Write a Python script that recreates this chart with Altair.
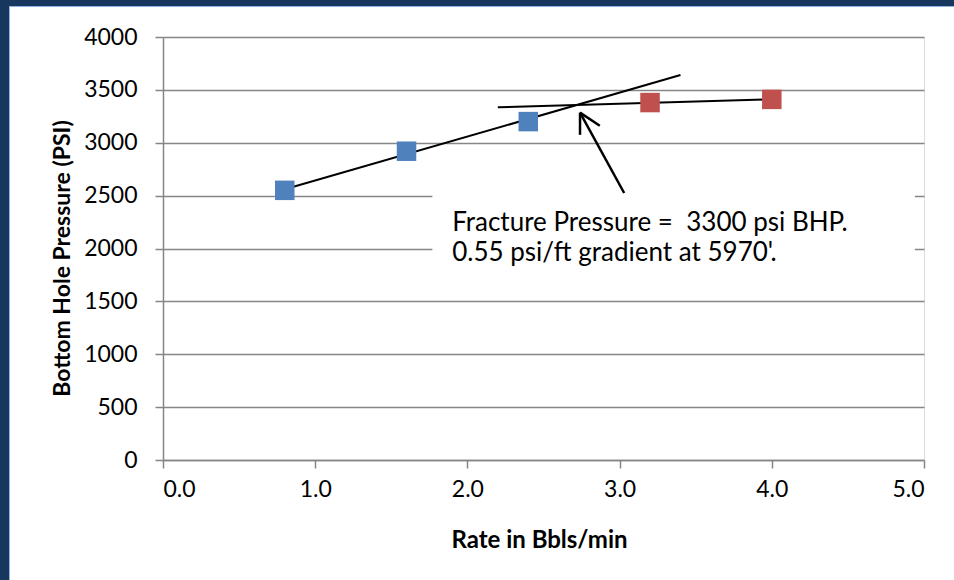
import altair as alt
import pandas as pd

# ---- data ----
rate = [0.8, 1.6, 2.4, 3.2, 4.0]
bhp = [2550, 2920, 3200, 3380, 3410]
phase = ["below", "below", "below", "above", "above"]
phase_colors = ["#4F81BD", "#C0504D"]

# hand-drawn trend lines and arrow (start x, start y, end x, end y)
seg_x = [0.8, 2.2, 3.03, 2.74, 2.74]
seg_y = [2560, 3335, 2525, 3285, 3285]
seg_x2 = [3.4, 4.0, 2.74, 2.74, 2.87]
seg_y2 = [3640, 3410, 3285, 3075, 3160]
seg_w = [2, 2, 2.5, 2.5, 2.5]

note_lines = ["Fracture Pressure =\u00a0 3300 psi BHP.", "0.55 psi/ft gradient at 5970'."]
note_x = [1.9, 1.9]
note_y = [2240, 1955]

box_x = [1.77]
box_x2 = [4.94]
box_y = [1600]
box_y2 = [2780]

x_ticks = [0, 1, 2, 3, 4, 5]
y_ticks = [0, 500, 1000, 1500, 2000, 2500, 3000, 3500, 4000]

FONT = "Lato"
GRAY = "#868686"
NAVY = "#17375E"
LIGHT = "#8EB4E3"

pts = pd.DataFrame({"rate": rate, "bhp": bhp, "phase": phase})
segs = pd.DataFrame({"x": seg_x, "y": seg_y, "x2": seg_x2, "y2": seg_y2, "w": seg_w})
notes = pd.DataFrame({"x": note_x, "y": note_y, "t": note_lines})
box = pd.DataFrame({"x": box_x, "x2": box_x2, "y": box_y, "y2": box_y2})

xs = alt.Scale(domain=[0, 5], nice=False)
ys = alt.Scale(domain=[0, 4000], nice=False)

x_axis = alt.Axis(values=x_ticks, format=".1f", grid=False, tickSize=8,
                  tickColor=GRAY, tickWidth=1.5, domainColor=GRAY, domainWidth=1.5,
                  labelFontSize=23, labelPadding=10, labelColor="black", labelFont=FONT,
                  title="Rate in Bbls/min", titleFontSize=24, titleFontWeight="bold",
                  titleColor="black", titleFont=FONT, titleX=376, titleY=80,
                  titleBaseline="middle", titleAlign="center")
y_axis = alt.Axis(values=y_ticks, format="d", grid=True, gridColor=GRAY, gridWidth=1.5, tickSize=8,
                  tickColor=GRAY, tickWidth=1.5, domainColor=GRAY, domainWidth=1.5,
                  labelFontSize=23, labelPadding=18, labelColor="black", labelFont=FONT,
                  title="Bottom Hole Pressure (PSI)", titleFontSize=23, titleFontWeight="bold",
                  titleColor="black", titleFont=FONT, titleX=-101, titleY=221, titleAngle=-90,
                  titleBaseline="middle", titleAlign="center")

base_axes = alt.Chart(pts).mark_point(opacity=0).encode(
    x=alt.X("rate:Q", scale=xs, axis=x_axis),
    y=alt.Y("bhp:Q", scale=ys, axis=y_axis),
)

box_layer = alt.Chart(box).mark_rect(color="white").encode(
    x=alt.X("x:Q", scale=xs), x2="x2:Q", y=alt.Y("y:Q", scale=ys), y2="y2:Q"
)

seg_layer = alt.Chart(segs).mark_rule(color="black").encode(
    x=alt.X("x:Q", scale=xs), y=alt.Y("y:Q", scale=ys), x2="x2:Q", y2="y2:Q",
    strokeWidth=alt.StrokeWidth("w:Q", scale=None, legend=None),
)

pt_layer = alt.Chart(pts).mark_square(size=380, opacity=1).encode(
    x=alt.X("rate:Q", scale=xs),
    y=alt.Y("bhp:Q", scale=ys),
    color=alt.Color("phase:N", scale=alt.Scale(domain=["below", "above"], range=phase_colors), legend=None),
)

note_layer = alt.Chart(notes).mark_text(align="left", baseline="middle", fontSize=26,
                                         font=FONT, color="black").encode(
    x=alt.X("x:Q", scale=xs), y=alt.Y("y:Q", scale=ys), text="t:N"
)

# page frame (navy border with light-blue inner edge)
frame_left = alt.Chart(pts).mark_rect(color=NAVY).encode(
    x=alt.value(-163), x2=alt.value(-154), y=alt.value(-37), y2=alt.value(543))
frame_top = alt.Chart(pts).mark_rect(color=NAVY).encode(
    x=alt.value(-163), x2=alt.value(791), y=alt.value(-37), y2=alt.value(-31))
edge_left = alt.Chart(pts).mark_rect(color=LIGHT).encode(
    x=alt.value(-154), x2=alt.value(-153), y=alt.value(-31), y2=alt.value(543))
edge_top = alt.Chart(pts).mark_rect(color=LIGHT).encode(
    x=alt.value(-154), x2=alt.value(791), y=alt.value(-31), y2=alt.value(-30))

chart = alt.layer(
    base_axes, box_layer, seg_layer, pt_layer, note_layer,
    frame_left, frame_top, edge_left, edge_top,
).properties(
    width=761, height=423,
    autosize=alt.AutoSizeParams(type="none"),
    padding={"left": 163, "top": 37, "right": 30, "bottom": 120},
    background="white",
).configure_view(stroke=None).configure(font=FONT)

chart.save("out.html", embed_options={"renderer": "svg", "actions": False})
